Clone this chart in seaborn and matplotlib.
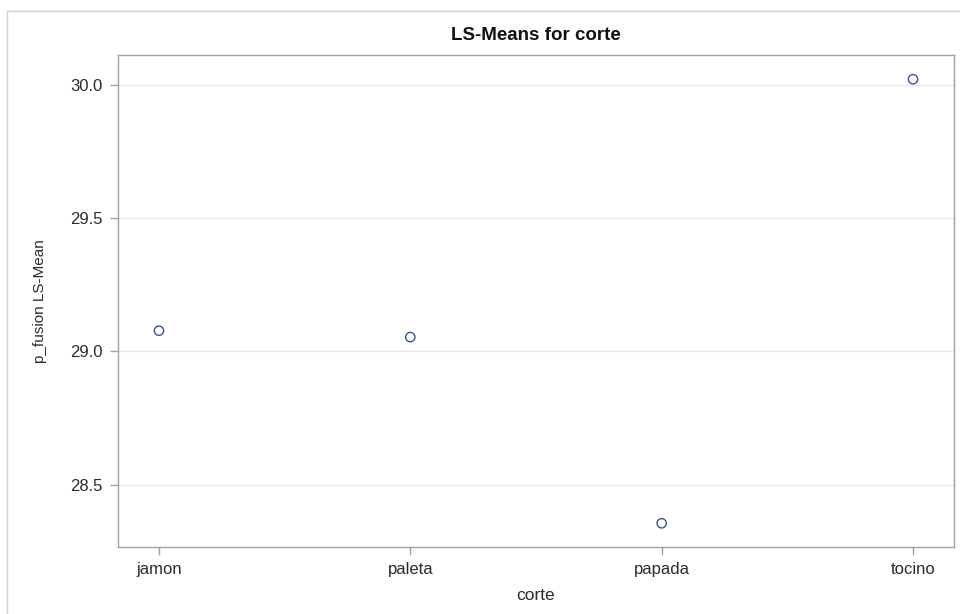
import matplotlib
matplotlib.use("Agg")
import matplotlib.pyplot as plt
import seaborn as sns
import pandas as pd
from matplotlib.patches import Rectangle

# LS-means of p_fusion by cut
cortes = ["jamon", "paleta", "papada", "tocino"]
ls_means = [29.078, 29.054, 28.355, 30.022]
y_ticks = [28.5, 29.0, 29.5, 30.0]

df = pd.DataFrame({"corte": cortes, "p_fusion": ls_means})

sns.set_theme(style="white")
plt.rcParams["font.family"] = ["Liberation Sans", "DejaVu Sans"]

fig = plt.figure(figsize=(9.6, 6.14), dpi=100)
ax = fig.add_axes([118 / 960, 1 - 547 / 614, (954 - 118) / 960, (547 - 55) / 614])

# outer frame of the graph
fig.patches.append(Rectangle((7 / 960, -0.05), 1.2, 1 - 11 / 614 + 0.05,
                             transform=fig.transFigure, fill=False,
                             edgecolor="#cfd1d4", linewidth=1.0, zorder=0))

sns.scatterplot(data=df, x="corte", y="p_fusion", ax=ax, marker="o", s=45,
                facecolor="none", edgecolor="#3c4f9c", linewidth=1.0, zorder=3)

ax.set_xlim(-0.163, 3.163)
ax.set_ylim(28.266, 30.113)
ax.set_yticks(y_ticks)
ax.set_yticklabels([f"{v:.1f}" for v in y_ticks])

ax.yaxis.grid(True, color="#e6e7ea", linewidth=1.0)
ax.set_axisbelow(True)
for sp in ax.spines.values():
    sp.set_color("#9ea3ab")
    sp.set_linewidth(1.0)

ax.tick_params(axis="both", length=6, width=1, color="#9ea3ab",
               labelsize=12, labelcolor="#2b2b2b", pad=5, direction="out")
ax.tick_params(axis="x", bottom=True)
ax.tick_params(axis="y", left=True)

ax.set_xlabel("corte", fontsize=12.5, color="#2b2b2b", labelpad=8)
ax.set_ylabel("p_fusion LS-Mean", fontsize=11, color="#2b2b2b", labelpad=17)

fig.text(0.558, 1 - 36 / 614, "LS-Means for corte", ha="center", va="center",
         fontsize=13.5, fontweight="bold", color="#111111")

fig.savefig("out.png", dpi=100, facecolor="white")
